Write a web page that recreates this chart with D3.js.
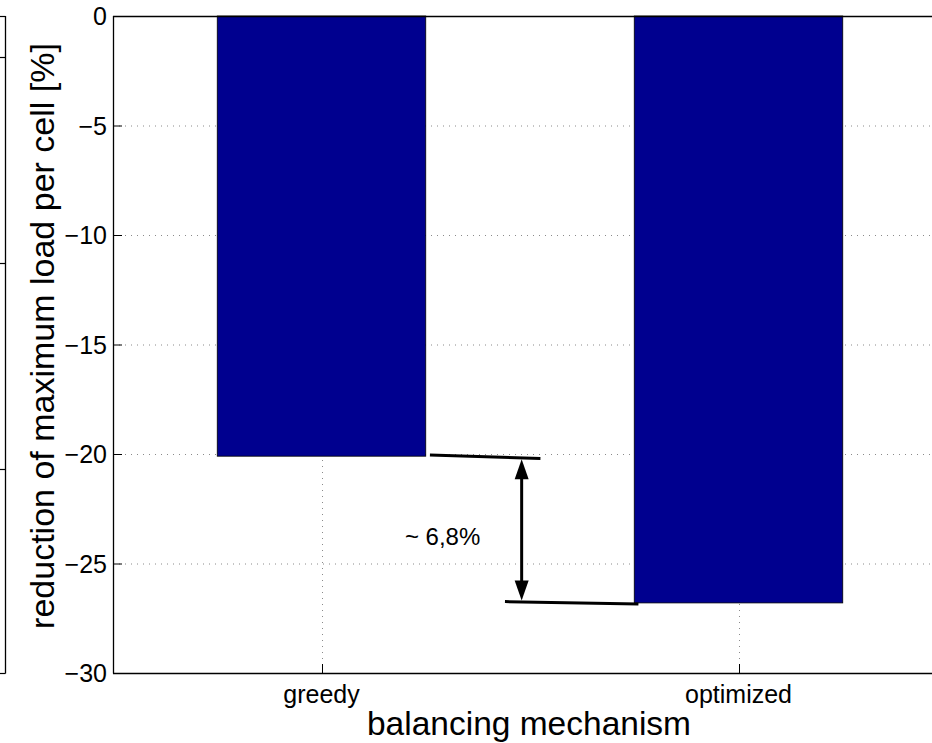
<!DOCTYPE html>
<html>
<head>
<meta charset="utf-8">
<script src="https://cdn.jsdelivr.net/npm/d3@7"></script>
<style>
  html, body { margin: 0; padding: 0; background: #fff; }
  svg { display: block; font-family: "Liberation Sans", Arial, Helvetica, sans-serif; }
</style>
</head>
<body>
<svg id="chart" width="932" height="743"></svg>
<script>
// bar chart: reduction of maximum load per cell, greedy vs optimized
const categories = ["greedy", "optimized"];
const values = [-20.1, -26.8];
const yTicks = [0, -5, -10, -15, -20, -25, -30];
const yLabel = "reduction of maximum load per cell [%]";
const xLabel = "balancing mechanism";
// annotation: gap between the two bar ends (x in bar-index units, y in %)
const gapTop = [[1.26, -20.05], [1.525, -20.2]];
const gapBottom = [[1.44, -26.74], [1.76, -26.85]];
const gapArrow = [[1.48, -20.15], [1.48, -26.78]];
const gapText = "~ 6,8%";
const gapTextPos = [1.2, -24.15];

const W = 932, H = 743;
const ML = 113, MR = -15, MT = 16, MB = 70;
const svg = d3.select("#chart");

const x = d3.scaleBand().domain(categories).range([ML, W - MR]).paddingInner(0.5).paddingOuter(0.25);
const xl = d3.scaleLinear().domain([0.5, 2.5]).range([ML, W - MR]);
const y = d3.scaleLinear().domain([-30, 0]).range([H - MB, MT]);

const GRID = "#8a8a8a";
// grid
svg.append("g").selectAll("line").data(yTicks.filter(v => v !== 0 && v !== -30)).join("line")
  .attr("x1", ML).attr("x2", W).attr("y1", d => y(d) + 0.5).attr("y2", d => y(d) + 0.5)
  .attr("stroke", GRID).attr("stroke-width", 1).attr("stroke-dasharray", "1 5");
svg.append("g").selectAll("line").data(categories).join("line")
  .attr("x1", d => Math.round(x(d) + x.bandwidth() / 2) + 0.5).attr("x2", d => Math.round(x(d) + x.bandwidth() / 2) + 0.5)
  .attr("y1", MT).attr("y2", H - MB)
  .attr("stroke", GRID).attr("stroke-width", 1).attr("stroke-dasharray", "1 5");

// bars
svg.append("g").selectAll("rect").data(categories).join("rect")
  .attr("x", d => x(d)).attr("width", x.bandwidth())
  .attr("y", y(0)).attr("height", (d, i) => y(values[i]) - y(0))
  .attr("fill", "#00008f").attr("stroke", "#000").attr("stroke-width", 0.8);

// axes frame
svg.append("line").attr("x1", ML + 0.5).attr("x2", ML + 0.5).attr("y1", MT).attr("y2", H - MB + 0.5)
  .attr("stroke", "#000").attr("stroke-width", 1.3);
svg.append("line").attr("x1", ML).attr("x2", W).attr("y1", H - MB + 0.5).attr("y2", H - MB + 0.5)
  .attr("stroke", "#000").attr("stroke-width", 1.3);
svg.append("line").attr("x1", ML).attr("x2", W).attr("y1", MT + 0.5).attr("y2", MT + 0.5)
  .attr("stroke", "#000").attr("stroke-width", 1.3);

// y ticks
const yt = svg.append("g").selectAll("g").data(yTicks).join("g");
yt.append("line").attr("x1", ML).attr("x2", ML + 9).attr("y1", d => y(d) + 0.5).attr("y2", d => y(d) + 0.5)
  .attr("stroke", "#000").attr("stroke-width", 1);
yt.append("text").attr("x", ML - 6).attr("y", d => y(d)).attr("dy", "0.36em")
  .attr("text-anchor", "end").attr("font-size", 25).attr("fill", "#000")
  .text(d => d === 0 ? "0" : "\u2212" + Math.abs(d));

// x ticks
const xt = svg.append("g").selectAll("g").data(categories).join("g");
xt.append("line")
  .attr("x1", d => Math.round(x(d) + x.bandwidth() / 2) + 0.5).attr("x2", d => Math.round(x(d) + x.bandwidth() / 2) + 0.5)
  .attr("y1", H - MB).attr("y2", H - MB - 9).attr("stroke", "#000").attr("stroke-width", 1);
xt.append("text").attr("x", d => x(d) + x.bandwidth() / 2).attr("y", H - MB + 30)
  .attr("text-anchor", "middle").attr("font-size", 25).attr("fill", "#000").text(d => d);

// axis labels
svg.append("text").attr("x", (ML + 947) / 2 - 1).attr("y", H - 8)
  .attr("text-anchor", "middle").attr("font-size", 33.5).attr("fill", "#000").text(xLabel);
svg.append("text").attr("transform", `translate(54,336) rotate(-90)`)
  .attr("text-anchor", "middle").attr("font-size", 34).attr("fill", "#000").text(yLabel);

// annotation
const ln = d3.line().x(d => xl(d[0])).y(d => y(d[1]));
svg.append("path").attr("d", ln(gapTop)).attr("stroke", "#000").attr("stroke-width", 3).attr("fill", "none");
svg.append("path").attr("d", ln(gapBottom)).attr("stroke", "#000").attr("stroke-width", 3).attr("fill", "none");
const ax = xl(gapArrow[0][0]), ay1 = y(gapArrow[0][1]), ay2 = y(gapArrow[1][1]);
svg.append("line").attr("x1", ax).attr("x2", ax).attr("y1", ay1 + 10).attr("y2", ay2 - 10)
  .attr("stroke", "#000").attr("stroke-width", 3);
svg.append("path").attr("d", `M${ax},${ay1 + 2} L${ax - 7},${ay1 + 22} L${ax + 7},${ay1 + 22} Z`).attr("fill", "#000");
svg.append("path").attr("d", `M${ax},${ay2 - 2} L${ax - 7},${ay2 - 22} L${ax + 7},${ay2 - 22} Z`).attr("fill", "#000");
svg.append("text").attr("x", xl(gapTextPos[0])).attr("y", y(gapTextPos[1]))
  .attr("font-size", 24).attr("fill", "#000").text(gapText);

// edge of the neighbouring panel, cut off at the left border
const edgeRows = [16, 57, 263, 469, 673];
svg.append("line").attr("x1", 5.5).attr("x2", 5.5).attr("y1", 16).attr("y2", 673.5).attr("stroke", "#000").attr("stroke-width", 1.3);
svg.append("g").selectAll("line").data(edgeRows).join("line")
  .attr("x1", 0).attr("x2", 5.5).attr("y1", d => d + 0.5).attr("y2", d => d + 0.5)
  .attr("stroke", "#000").attr("stroke-width", 1.2);
</script>
</body>
</html>
